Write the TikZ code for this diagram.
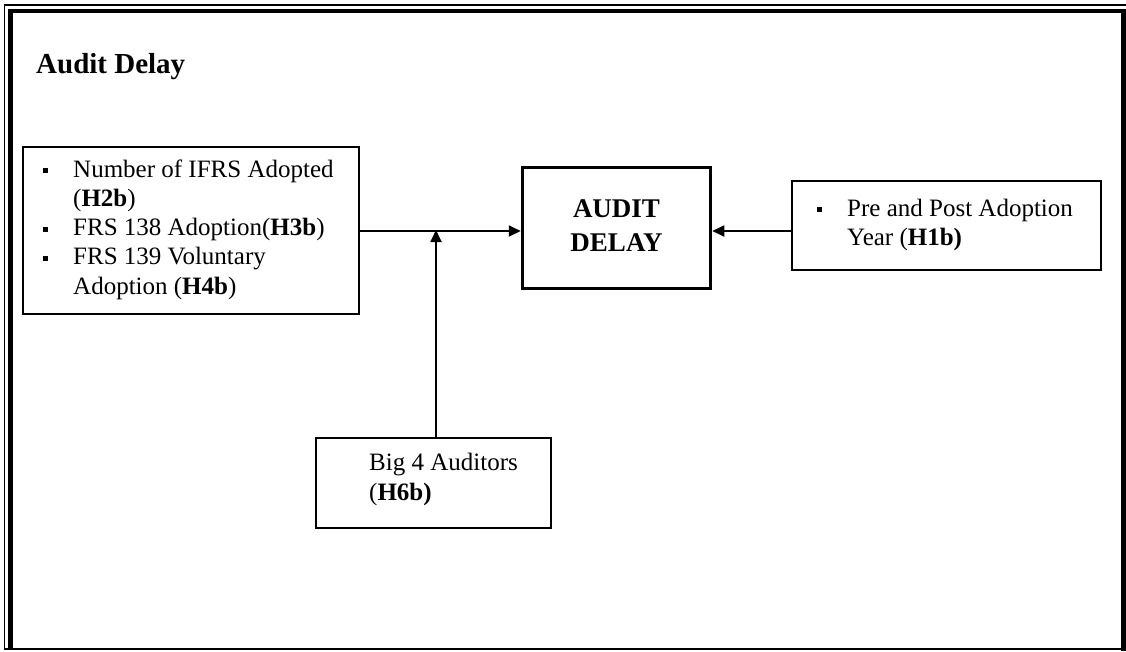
\documentclass[tikz,border=0pt]{standalone}
\usepackage{fontspec}
\setmainfont{Liberation Serif}
\usetikzlibrary{arrows.meta}
\newcommand{\blt}{\llap{\rule[4pt]{5pt}{5pt}\hspace{25pt}}}
\begin{document}
\begin{tikzpicture}[x=1pt,y=-1pt,
  box/.style={draw, line width=2pt, inner sep=0pt},
  bigbox/.style={draw, line width=3.5pt, inner sep=0pt},
  txt/.style={font=\fontsize{25}{29.2}\selectfont, align=left, inner sep=0pt, anchor=base west},
  conn/.style={line width=1.8pt},
  arr/.style={conn, -{Triangle[length=12pt,width=11pt]}}]
\useasboundingbox (0,0) rectangle (1126,651);
% outer frame
\draw[line width=1.6pt] (4.5,4.8) -- (1126,4.8);
\draw[line width=1.6pt] (4.5,4) -- (4.5,650);
\draw[line width=4.5pt] (8,11) -- (1121,11);
\draw[line width=4.5pt] (10.5,9) -- (10.5,648.5);
\draw[line width=5pt] (1123.5,9) -- (1123.5,651);
\draw[line width=1.8pt] (4,649.3) -- (1126,649.3);
% title
\node[txt, font=\fontsize{29}{34}\selectfont\bfseries] (title) at (36,73) {Audit Delay};
% boxes
\node[box, minimum width=336pt, minimum height=167pt] (left) at (190.5,230) {};
\node[bigbox, minimum width=188pt, minimum height=121pt] (audit) at (616.5,228) {};
\node[box, minimum width=309pt, minimum height=89pt] (right) at (946.5,225.5) {};
\node[box, minimum width=235pt, minimum height=90pt] (big) at (433.5,483) {};
% texts (anchored at the baseline of the last line)
\node[txt] (lefttxt) at (73,294) {\blt Number of IFRS Adopted\\(\textbf{H2b})\\\blt FRS 138 Adoption(\textbf{H3b})\\\blt FRS 139 Voluntary\\Adoption (\textbf{H4b})};
\node[font=\fontsize{27}{34}\selectfont\bfseries, align=center, inner sep=0pt, anchor=base] (audittxt) at (616.5,251) {AUDIT\\DELAY};
\node[txt, font=\fontsize{25}{29}\selectfont] (righttxt) at (847,245) {\blt Pre and Post Adoption\\Year (\textbf{H1b)}};
\node[txt, font=\fontsize{25}{30}\selectfont] (bigtxt) at (369,500) {Big 4 Auditors\\(\textbf{H6b)}};
% connectors
\coordinate (ay) at (0,231);
\coordinate (junc) at (436,231);
\draw[arr] (left.east |- ay) -- (audit.west |- ay);
\draw[arr] (right.west |- ay) -- (audit.east |- ay);
\draw[arr] (big.north -| junc) -- ([yshift=1pt]junc);
\end{tikzpicture}
\end{document}
